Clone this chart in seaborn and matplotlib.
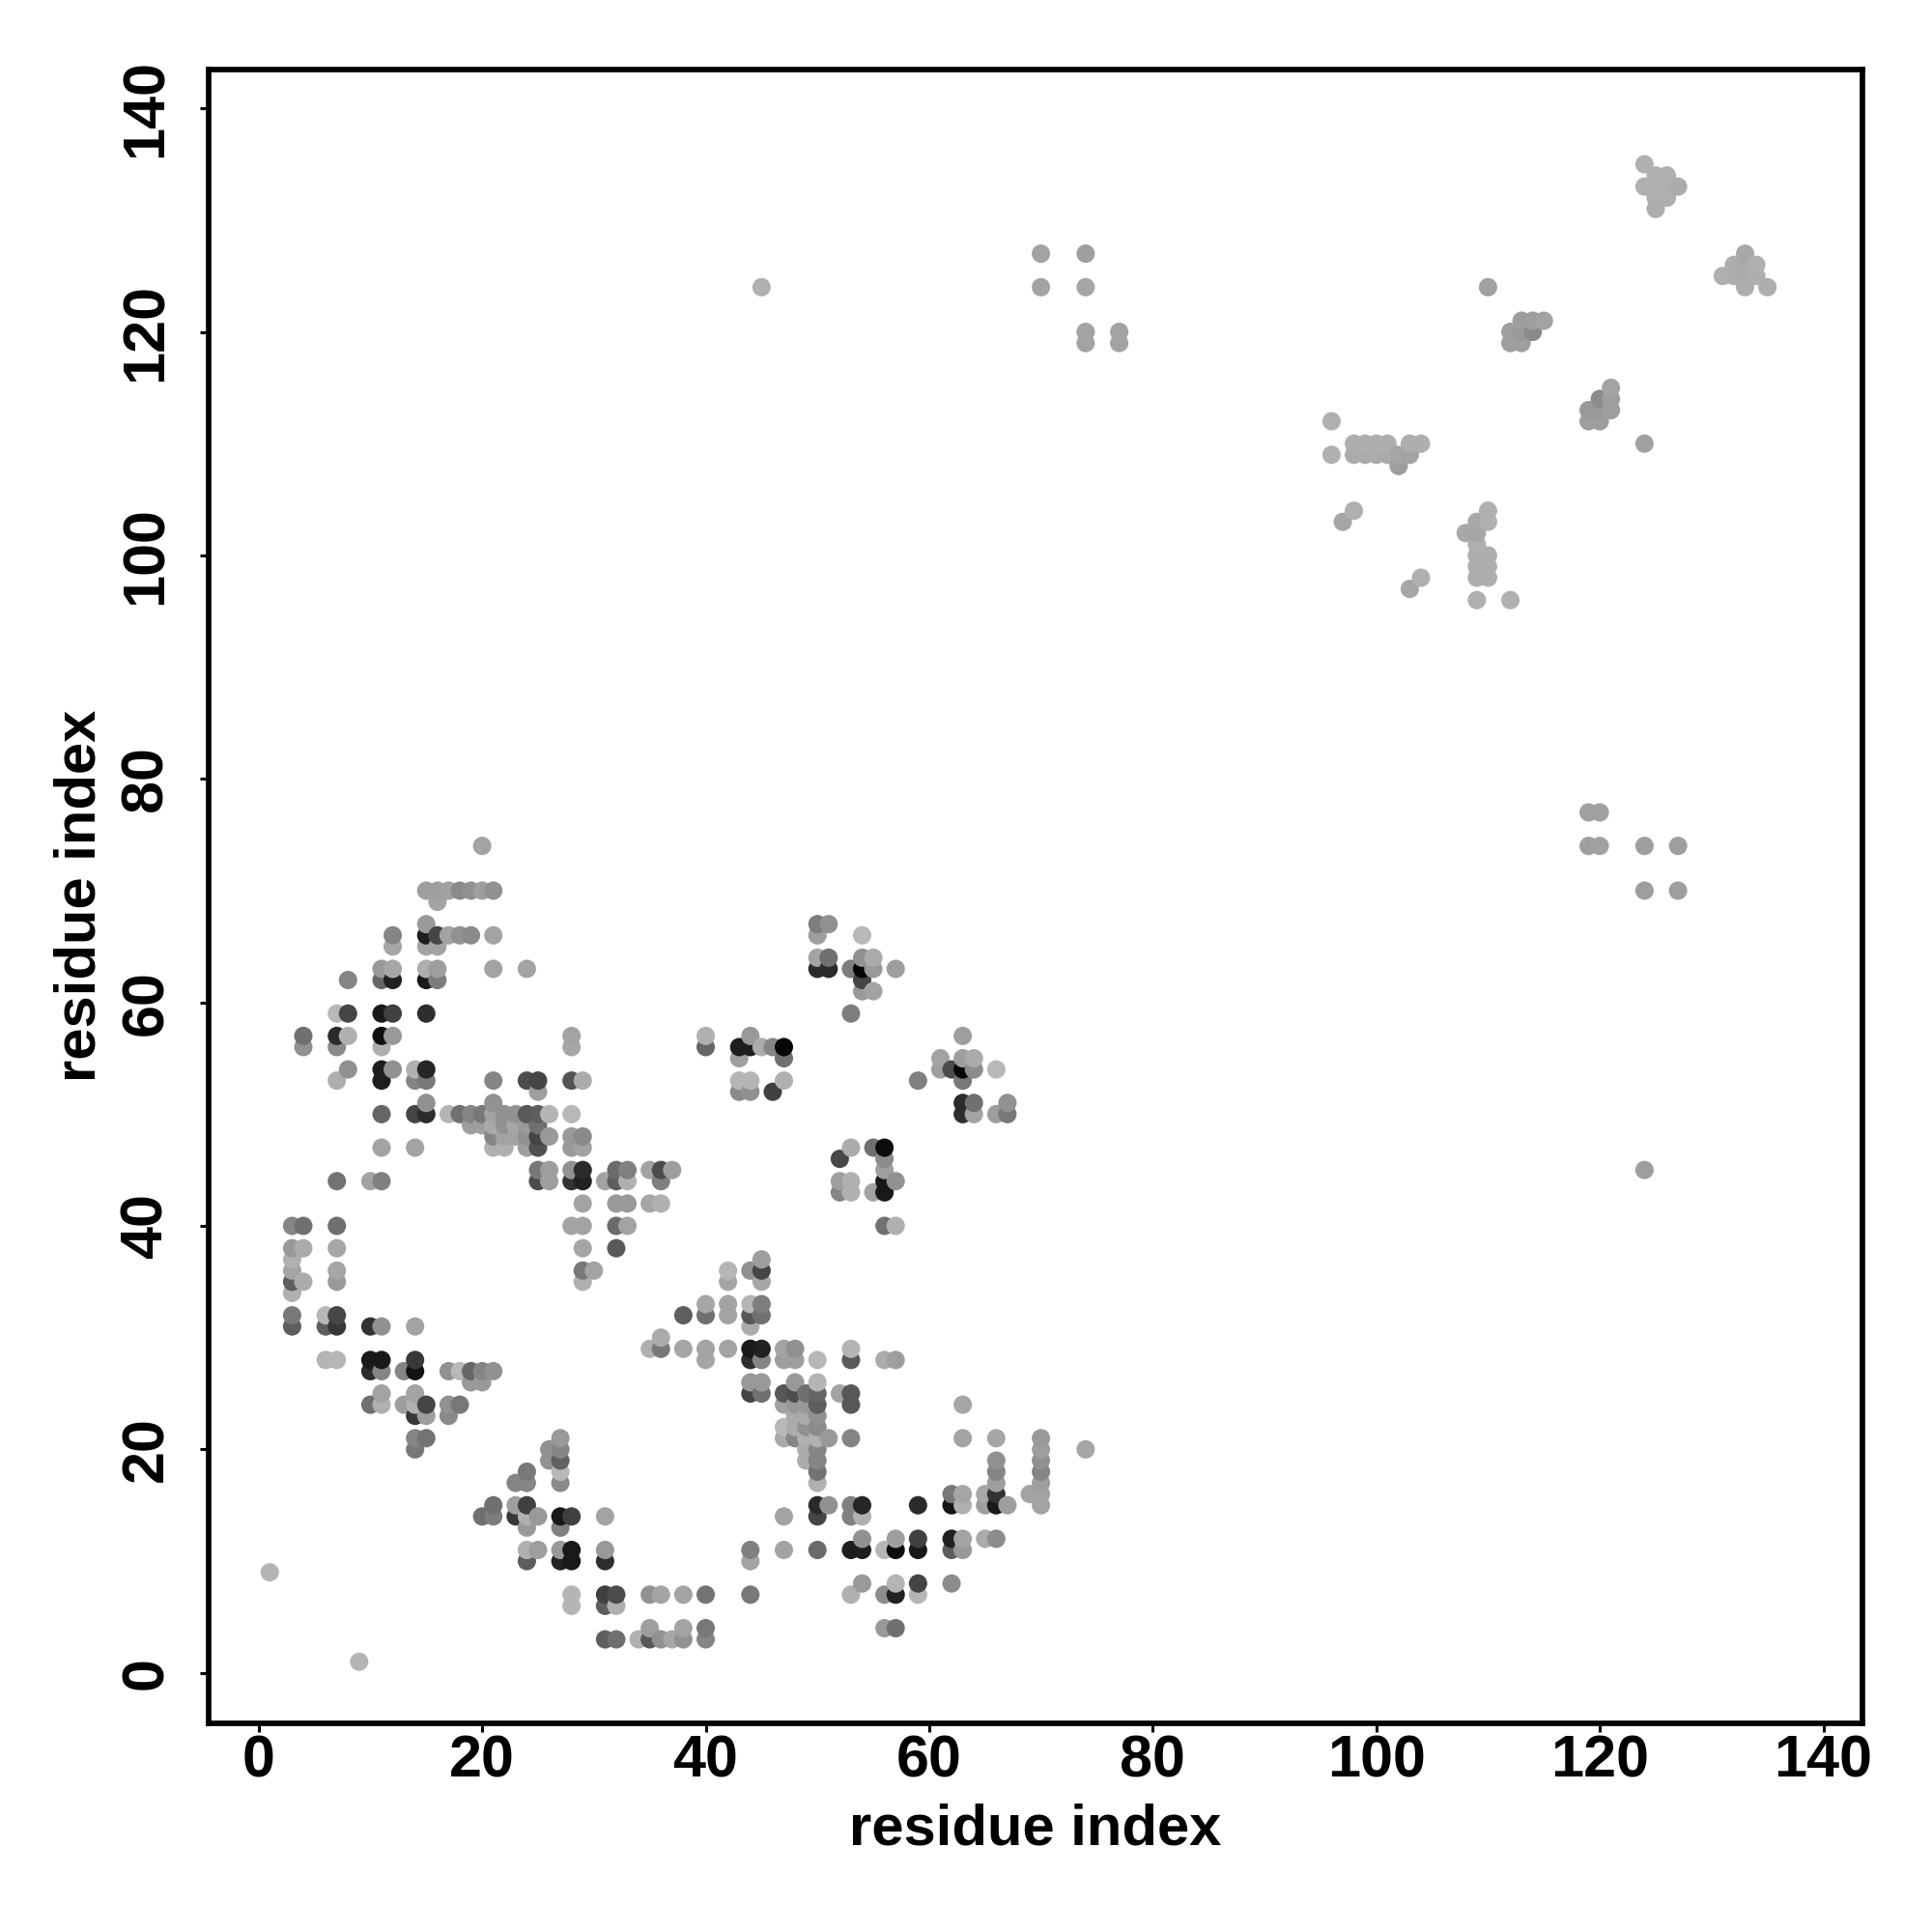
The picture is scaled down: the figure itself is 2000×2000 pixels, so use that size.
import pandas as pd
from matplotlib import pyplot as plt
import seaborn as sns

# one entry per row of the contact map: y value, residues on that row, grey level of each dot
row_levels = [135, 134, 133, 132, 131, 127, 126, 125, 124, 121, 120, 119, 115, 114, 113, 112, 110, 109, 108,
              104, 103, 102, 101, 100, 99, 98, 97, 96, 77, 74, 70, 69, 67, 66, 65, 64, 63, 62, 61, 59, 57, 56, 55,
              54, 53, 52, 51, 50, 49, 48, 47, 46, 45, 44, 43, 42, 40, 38, 37, 36, 35, 34, 33, 32, 31, 30, 29, 28,
              27, 26, 25, 24, 23, 22, 21, 20, 19, 18, 17, 16, 15, 14, 13, 12, 11, 10, 9, 8, 7, 6, 4, 3, 1]

row_residues = [
    [124], [125, 126], [124, 125, 126, 127], [125, 126], [125],
    [70, 74, 133], [132, 133, 134], [131, 132, 133, 134], [45, 70, 74, 110, 133, 135],
    [113, 114, 115], [74, 77, 112, 113, 114], [74, 77, 112, 113],
    [121], [120, 121], [119, 120, 121], [96, 119, 120],
    [98, 99, 100, 101, 103, 104, 124], [96, 98, 99, 100, 101, 102, 103], [102],
    [98, 110], [97, 109, 110], [108, 109], [109], [109, 110], [109, 110], [104, 109, 110], [103], [109, 112],
    [119, 120], [20, 119, 120, 124, 127], [15, 16, 17, 18, 19, 20, 21, 124, 127], [16],
    [15, 50, 51], [12, 15, 16, 17, 18, 19, 21, 50, 54], [12, 15, 16], [50, 51, 54, 55],
    [11, 12, 15, 16, 21, 24, 50, 51, 53, 54, 55, 57], [8, 11, 12, 15, 16, 54], [54, 55],
    [7, 8, 11, 12, 15, 53], [4, 7, 8, 11, 12, 28, 40, 44, 63], [4, 7, 11, 28, 40, 43, 44, 45, 46, 47],
    [43, 47, 61, 63, 64], [8, 11, 12, 14, 15, 61, 62, 63, 64, 66],
    [7, 11, 14, 15, 21, 24, 25, 28, 29, 43, 44, 47, 59, 63], [25, 43, 44, 46], [15, 21, 63, 64, 67],
    [11, 14, 15, 17, 18, 19, 20, 21, 22, 23, 24, 25, 26, 28, 63, 64, 66, 67],
    [19, 20, 21, 22, 23, 24, 25], [21, 22, 23, 24, 25, 26, 28, 29],
    [11, 14, 21, 22, 24, 25, 28, 29, 53, 55, 56], [52, 56],
    [25, 26, 28, 29, 32, 33, 35, 36, 37, 56, 124],
    [7, 10, 11, 25, 26, 28, 29, 31, 32, 33, 36, 52, 53, 56, 57], [52, 53, 55, 56], [29, 32, 33, 35, 36],
    [3, 4, 7, 28, 29, 32, 33, 56, 57], [3, 4, 7, 29, 32], [3, 45], [3, 7, 29, 30, 42, 44, 45],
    [3, 4, 7, 29, 42, 45], [3], [40, 42, 44, 45], [3, 6, 7, 38, 40, 42, 44, 45],
    [3, 6, 7, 10, 11, 14, 44], [36], [35, 36, 38, 40, 42, 44, 45, 47, 48, 53],
    [6, 7, 10, 11, 14, 40, 44, 45, 47, 48, 50, 53, 56, 57], [10, 11, 13, 14, 17, 18, 19, 20, 21],
    [19, 20, 44, 45, 48, 50], [11, 14, 44, 45, 47, 48, 49, 50, 52, 53],
    [10, 11, 13, 14, 15, 17, 18, 47, 48, 49, 50, 53, 63], [14, 15, 17, 48, 49, 50], [47, 48, 49, 50],
    [14, 15, 27, 47, 48, 49, 50, 51, 53, 63, 66, 70], [14, 26, 27, 49, 50, 70, 74], [26, 27, 49, 50, 66, 70],
    [24, 27, 50, 66, 70], [23, 24, 27, 50, 66, 70], [62, 63, 65, 66, 69, 70],
    [21, 23, 24, 50, 51, 53, 54, 59, 62, 63, 65, 66, 67, 70], [20, 21, 23, 24, 25, 27, 28, 31, 47, 50, 53, 54],
    [24, 27], [54, 57, 59, 62, 63, 65, 66], [24, 25, 27, 28, 31, 44, 47, 50, 53, 54, 56, 57, 59, 62, 63],
    [24, 27, 28, 31, 44], [1], [54, 57, 59, 62], [28, 31, 32, 35, 36, 38, 40, 44, 53, 56, 57, 59],
    [28, 31, 32], [35, 38, 40, 56, 57], [31, 32, 34, 35, 36, 37, 38, 40], [9],
]

row_shades = [
    [.69], [.69, .69], [.69, .69, .69, .67], [.68, .68], [.68],
    [.64, .62, .66], [.68, .67, .69], [.69, .68, .67, .68], [.69, .64, .65, .63, .68, .68],
    [.62, .62, .64], [.64, .64, .62, .6, .54], [.64, .64, .62, .62],
    [.64], [.55, .62], [.6, .6, .62], [.69, .62, .62],
    [.68, .68, .68, .68, .68, .68, .63], [.69, .67, .67, .67, .67, .65, .64], [.62],
    [.69, .69], [.65, .66, .69], [.66, .65], [.69], [.68, .68], [.68, .68], [.69, .68, .68], [.65], [.69, .69],
    [.63, .63], [.64, .62, .63, .62, .62], [.62, .62, .63, .54, .57, .62, .57, .62, .62], [.64],
    [.6, .49, .57], [.52, .12, .27, .64, .57, .54, .64, .62, .72], [.65, .64, .64], [.64, .44, .57, .67],
    [.6, .65, .68, .62, .64, .64, .17, .17, .49, .02, .6, .62], [.52, .4, .13, .1, .49, .27], [.6, .64],
    [.72, .27, .1, .25, .18, .49], [.44, .17, .69, .06, .6, .64, .69, .6, .62],
    [.57, .54, .68, .65, .4, .12, .12, .67, .52, .03],
    [.62, .44, .64, .62, .67], [.57, .12, .57, .69, .15, .62, .3, .03, .55, .72],
    [.68, .12, .52, .47, .52, .3, .27, .33, .67, .71, .71, .69, .5, .47], [.62, .54, .57, .25], [.57, .57, .17, .44, .57],
    [.4, .27, .17, .71, .44, .52, .47, .64, .57, .57, .35, .37, .71, .72, .18, .64, .62, .47],
    [.62, .62, .67, .57, .65, .6, .44], [.52, .64, .64, .57, .27, .6, .6, .54],
    [.64, .64, .69, .69, .62, .32, .6, .64, .67, .44, .05], [.28, .54],
    [.47, .62, .57, .17, .42, .5, .64, .3, .62, .62, .62],
    [.45, .64, .5, .3, .62, .2, .13, .64, .37, .69, .5, .62, .69, .1, .57], [.52, .69, .64, .1], [.64, .6, .6, .65, .69],
    [.52, .44, .44, .64, .64, .42, .64, .44, .69], [.6, .67, .65, .65, .35], [.69, .62], [.64, .65, .47, .64, .71, .57, .27],
    [.37, .67, .6, .69, .65, .65], [.69], [.65, .64, .71, .49], [.47, .72, .28, .37, .44, .64, .34, .44],
    [.37, .37, .22, .2, .57, .64, .67], [.67], [.69, .47, .65, .64, .64, .1, .13, .64, .57, .71],
    [.71, .71, .1, .1, .22, .65, .18, .52, .62, .62, .72, .35, .67, .62], [.17, .52, .52, .08, .57, .72, .4, .52, .57],
    [.6, .6, .6, .6, .6, .71], [.64, .64, .27, .44, .34, .3, .44, .4, .64, .34],
    [.44, .69, .62, .69, .27, .57, .47, .64, .6, .6, .37, .34, .65], [.22, .62, .54, .67, .67, .57], [.72, .67, .57, .54],
    [.52, .45, .6, .67, .52, .69, .69, .6, .52, .64, .65, .6], [.47, .57, .52, .67, .52, .62, .65], [.57, .38, .67, .52, .57, .57],
    [.47, .72, .45, .52, .52], [.52, .52, .54, .69, .62, .62], [.47, .65, .65, .2, .64, .64],
    [.44, .62, .25, .17, .57, .5, .15, .17, .08, .69, .62, .1, .62, .64],
    [.44, .49, .22, .69, .6, .1, .25, .64, .64, .27, .5, .69],
    [.6, .5], [.57, .62, .25, .13, .64, .67, .55],
    [.69, .62, .6, .1, .6, .5, .64, .42, .12, .12, .71, .05, .1, .37, .6],
    [.37, .14, .1, .18, .64], [.71], [.6, .71, .27, .55], [.71, .25, .3, .57, .64, .64, .45, .47, .69, .55, .13, .71],
    [.71, .37, .69], [.62, .64, .47, .6, .44], [.37, .44, .69, .35, .57, .65, .57, .52], [.71],
]

tick_values = [0, 20, 40, 60, 80, 100, 120, 140]

contacts = pd.DataFrame(
    [(x, y, s) for y, xs, ss in zip(row_levels, row_residues, row_shades) for x, s in zip(xs, ss)],
    columns = ['residue_x', 'residue_y', 'shade'])
# later residues sit on top in the original
contacts = contacts.sort_values(['residue_x', 'residue_y'])

sns.set_style('white')
plt.rcParams['font.family'] = ['Liberation Sans', 'DejaVu Sans']
plt.rcParams['text.color'] = 'black'
plt.rcParams['axes.labelcolor'] = 'black'
plt.rcParams['xtick.labelcolor'] = 'black'
plt.rcParams['ytick.labelcolor'] = 'black'

fig = plt.figure(figsize = (10, 10), dpi = 200)
axes = fig.add_axes([216 / 2000, (2000 - 1783.7) / 2000, 1712 / 2000, 1712 / 2000])

sns.scatterplot(data = contacts, x = 'residue_x', y = 'residue_y', hue = 'shade', palette = 'gray',
                hue_norm = (0, 1), s = 47, linewidth = 0, legend = False, ax = axes, clip_on = False)

axes.set_xlim(-4.47, 143.5)
axes.set_ylim(-4.49, 143.5)
axes.set_xticks(tick_values)
axes.set_yticks(tick_values)
axes.tick_params(axis = 'x', length = 3.1, width = 1.1, color = 'black', labelcolor = 'black', pad = 1.2, bottom = True)
axes.tick_params(axis = 'y', length = 3.1, width = 1.1, color = 'black', labelcolor = 'black', pad = 9.5, left = True)
for label in axes.get_xticklabels():
    label.set_fontsize(22)
    label.set_fontweight('bold')
for label in axes.get_yticklabels():
    label.set_fontsize(22)
    label.set_fontweight('bold')
    label.set_rotation(90)
    label.set_verticalalignment('center')

for spine in axes.spines.values():
    spine.set_linewidth(2.05)
    spine.set_color('black')

axes.set_xlabel('residue index', fontsize = 21.5, fontweight = 'bold', labelpad = 5, color = 'black')
axes.set_ylabel('residue index', fontsize = 21.5, fontweight = 'bold', labelpad = 5, color = 'black')

fig.savefig('out.png')
